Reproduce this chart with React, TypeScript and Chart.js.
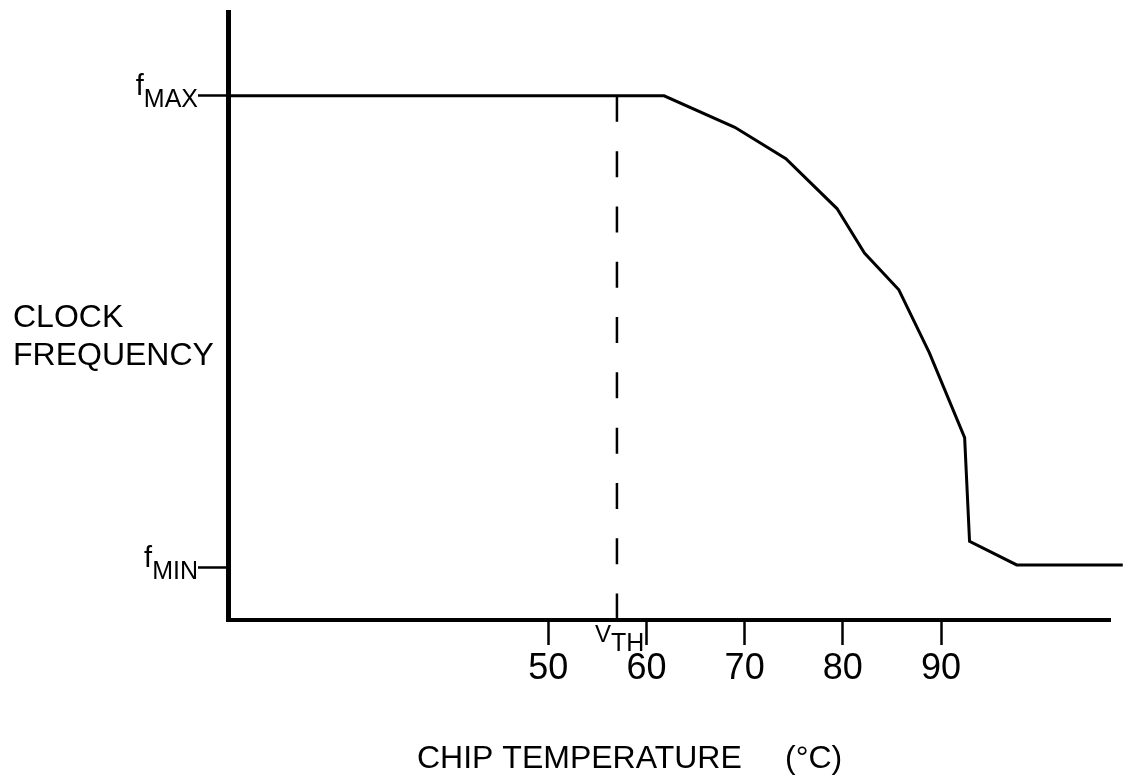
import React, { useEffect, useRef } from "react";
import { Chart, registerables } from "chart.js";

Chart.register(...registerables);

// ---- data ----
const TEMPERATURES = [17.4, 61.8, 69, 74.2, 79.4, 82.2, 85.7, 88.8, 92.4, 92.9, 97.7, 108.5];
const FREQUENCIES = [100, 100, 94, 88, 78.5, 70, 63, 51, 34.8, 15, 10.5, 10.5];
const X_TICKS = [50, 60, 70, 80, 90];
const F_MAX = 100;
const F_MIN = 10;
const V_TH = 57;
const X_MIN = 17.4;
const X_MAX = 107.2;
const Y_MIN = 0;
const Y_MAX = 116;
const Y_LABEL = ["CLOCK", "FREQUENCY"];
const X_TITLE = "CHIP TEMPERATURE";
const X_UNIT = "(°C)";
const F_LABELS = [
  { value: F_MAX, sub: "MAX" },
  { value: F_MIN, sub: "MIN" },
];

const FONT = '"Liberation Sans", Arial, sans-serif';

const labelsPlugin = {
  id: "patentLabels",
  afterDraw(chart: any) {
    const { ctx, chartArea, scales } = chart;
    const xs = scales.x;
    const ys = scales.y;
    ctx.save();
    ctx.fillStyle = "#000";
    ctx.textBaseline = "alphabetic";

    // y-axis label
    ctx.textAlign = "left";
    ctx.font = `32px ${FONT}`;
    ctx.fillText(Y_LABEL[0], 13, 327);
    ctx.fillText(Y_LABEL[1], 13, 365);

    // f_MAX / f_MIN labels
    F_LABELS.forEach((l) => {
      const py = ys.getPixelForValue(l.value);
      const right = chartArea.left - 30;
      ctx.textAlign = "right";
      ctx.font = `25px ${FONT}`;
      ctx.fillText(l.sub, right, py + 11);
      const w = ctx.measureText(l.sub).width;
      ctx.font = `29px ${FONT}`;
      ctx.fillText("f", right - w, py - 1);
    });

    // V_TH label
    const vx = xs.getPixelForValue(V_TH);
    const axisY = chartArea.bottom;
    ctx.textAlign = "left";
    ctx.font = `24px ${FONT}`;
    ctx.fillText("V", vx - 22, axisY + 22);
    const vw = ctx.measureText("V").width;
    ctx.font = `25px ${FONT}`;
    ctx.fillText("TH", vx - 22 + vw, axisY + 31);

    // x-axis title
    ctx.font = `32px ${FONT}`;
    ctx.fillText(X_TITLE, 417, 768);
    ctx.fillText(X_UNIT, 785, 768);

    ctx.restore();
  },
};

export default function App() {
  const canvasRef = useRef<HTMLCanvasElement | null>(null);

  useEffect(() => {
    const canvas = canvasRef.current;
    if (!canvas) return;
    const chart = new Chart(canvas, {
      type: "line",
      data: {
        datasets: [
          {
            label: "Clock frequency",
            data: TEMPERATURES.map((t, i) => ({ x: t, y: FREQUENCIES[i] })),
            borderColor: "#000",
            borderWidth: 3,
            pointRadius: 0,
            tension: 0,
            fill: false,
            clip: false as any,
            borderJoinStyle: "miter",
          },
          {
            label: "V_TH",
            data: [
              { x: V_TH, y: F_MAX },
              { x: V_TH, y: Y_MIN },
            ],
            borderColor: "#000",
            borderWidth: 2.5,
            borderDash: [26, 29.3],
            pointRadius: 0,
            fill: false,
            clip: false as any,
          },
        ],
      },
      options: {
        animation: false,
        responsive: false,
        layout: { padding: { top: 12, right: 13, left: 0, bottom: 0 } },
        plugins: {
          legend: { display: false },
          tooltip: { enabled: false },
          title: { display: false },
        },
        scales: {
          x: {
            type: "linear",
            min: X_MIN,
            max: X_MAX,
            afterBuildTicks: (s: any) => {
              s.ticks = X_TICKS.map((v) => ({ value: v }));
            },
            afterFit: (s: any) => {
              s.height = 164;
            },
            grid: {
              display: true,
              drawOnChartArea: false,
              drawTicks: true,
              tickLength: 25,
              tickWidth: 2.5,
              tickColor: "#000",
              color: "#000",
            },
            border: { display: true, color: "#000", width: 4 },
            ticks: {
              color: "#000",
              font: { family: FONT, size: 36 },
              padding: 2,
              maxRotation: 0,
              autoSkip: false,
              callback: (v: any) => String(v),
            },
          },
          y: {
            type: "linear",
            min: Y_MIN,
            max: Y_MAX,
            afterBuildTicks: (s: any) => {
              s.ticks = [{ value: F_MIN }, { value: F_MAX }];
            },
            afterFit: (s: any) => {
              s.width = 228;
            },
            grid: {
              display: true,
              drawOnChartArea: false,
              drawTicks: true,
              tickLength: 30,
              tickWidth: 2.5,
              tickColor: "#000",
              color: "#000",
            },
            border: { display: true, color: "#000", width: 5 },
            ticks: {
              color: "#000",
              callback: () => "",
            },
          },
        },
      },
      plugins: [labelsPlugin],
    } as any);
    return () => chart.destroy();
  }, []);

  return (
    <div style={{ position: "fixed", left: 0, top: 0, width: 1123, height: 784, background: "#fff" }}>
      <canvas ref={canvasRef} width={1123} height={784} style={{ display: "block", width: 1123, height: 784 }} />
    </div>
  );
}
